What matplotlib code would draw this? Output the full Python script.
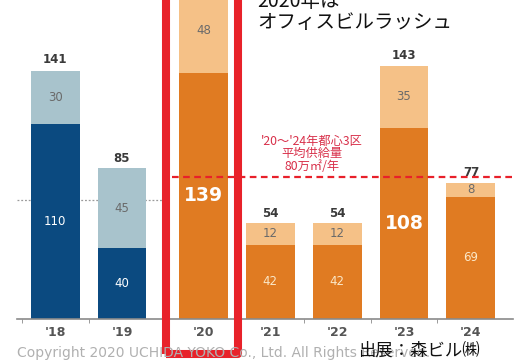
import matplotlib
matplotlib.use("Agg")
import matplotlib.pyplot as plt
import numpy as np
from matplotlib.patches import Rectangle

plt.rcParams['font.family'] = ['DejaVu Sans', 'Noto Sans CJK JP']

years = ["'18", "'19", "'20", "'21", "'22", "'23", "'24"]
base = [110, 40, 139, 42, 42, 108, 69]
extra = [30, 45, 48, 12, 12, 35, 8]
totals = [141, 85, 187, 54, 54, 143, 77]
avg_line = 80
gray_ref = 67

dark_cols = ['#0b4a80', '#0b4a80', '#e07b22', '#e07b22', '#e07b22', '#e07b22', '#e07b22']
light_cols = ['#a8c3cc', '#a8c3cc', '#f5c187', '#f5c187', '#f5c187', '#f5c187', '#f5c187']

W, H = 529, 363
fig = plt.figure(figsize=(W/100, H/100), dpi=100)
ax = fig.add_axes([17/W, 1-319/H, (513-17)/W, 319/H])

x = np.arange(len(years)).astype(float)
x[2:] += 0.22
bw = 0.73

ax.set_xlim(-0.57, 6.85)
ax.set_ylim(0, 180)

# gray reference dotted line (behind bars)
ax.plot([-0.57, 1.65], [gray_ref, gray_ref], color='#9a9a9a', lw=0.9, ls=(0, (1.5, 1.5)), zorder=1)

ax.bar(x, base, width=bw, color=dark_cols, zorder=2)
ax.bar(x, extra, width=bw, bottom=base, color=light_cols, zorder=2)

for i in range(len(years)):
    if i != 2:
        ax.text(x[i], totals[i] + 2, str(totals[i]), ha='center', va='bottom',
                fontsize=8.5, color='#3a3a3a', fontweight='semibold', zorder=3)
    ax.text(x[i], base[i] + extra[i]/2, str(extra[i]), ha='center', va='center',
            fontsize=8.5, color='#6a6a6a', zorder=3)
    if base[i] in (139, 108):
        ax.text(x[i], base[i]/2, str(base[i]), ha='center', va='center',
                fontsize=13.5, color='white', fontweight='bold', zorder=3)
    else:
        col = 'white' if i < 2 else '#fbe8c8'
        ax.text(x[i], base[i]/2, str(base[i]), ha='center', va='center',
                fontsize=8.5, color=col, zorder=3)

# red dashed average line
ax.plot([1.75, 6.85], [avg_line, avg_line], color='#e8202a', lw=1.6, ls=(0, (3, 2)), zorder=4)
ax.text(3.84, 82.5, "'20～'24年都心3区\n平均供給量\n80万㎡/年", ha='center', va='bottom',
        fontsize=8.8, color='#d8304a', linespacing=0.95,
        family=['Noto Sans CJK JP', 'DejaVu Sans'], zorder=4)

# axis styling
for s in ['top', 'right', 'left']:
    ax.spines[s].set_visible(False)
ax.spines['bottom'].set_color('#8a8a8a')
ax.spines['bottom'].set_linewidth(1.2)
ax.set_yticks([])
mids = [-0.5, 0.5, 1.61, 2.72, 3.72, 4.72, 5.72]
ax.set_xticks(mids, minor=True)
ax.tick_params(axis='x', which='minor', length=3, color='#8a8a8a', direction='out')
ax.set_xticks(x)
ax.set_xticklabels(years, fontsize=9, color='#555555', fontweight='bold')
ax.tick_params(axis='x', which='major', length=0, pad=5)

# copyright & source
fig.text(17/W, 1-353/H, "Copyright 2020 UCHIDA YOKO Co., Ltd. All Rights Reserved.",
         ha='left', va='center', fontsize=10, color='#b0b0b0')
fig.text(358/W, 1-351/H, "出展：森ビル㈱", ha='left', va='center', fontsize=12.5,
         color='#111111', family=['Noto Sans CJK JP', 'DejaVu Sans'], zorder=10)

# red highlight rectangle
rect = Rectangle((1.657, -19.8), 2.731 - 1.657, 240, fill=False, edgecolor='#e8222a',
                 lw=5.8, joinstyle='round', clip_on=False, zorder=6)
ax.add_patch(rect)

# headline
fig.text(257/W, 1-12/H, "2020年は\nオフィスビルラッシュ", ha='left', va='center',
         fontsize=14, color='#111111', linespacing=1.0,
         family=['Noto Sans CJK JP', 'DejaVu Sans'])

fig.savefig('out.png', dpi=100)
